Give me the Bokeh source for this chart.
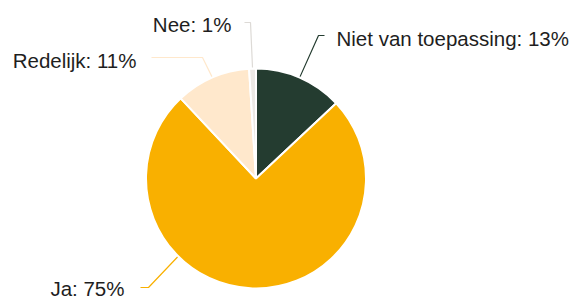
import math
from bokeh.plotting import figure
from bokeh.models import Range1d, ColumnDataSource
from bokeh.core.properties import value
from bokeh.embed import file_html
from bokeh.resources import INLINE

categories = ["Niet van toepassing", "Ja", "Redelijk", "Nee"]
percentages = [13, 75, 11, 1]
colors = ["#243C30", "#F9B000", "#FFE8CC", "#ECE9E5"]

W, H = 571, 300
OX, OY = 0, 0
p = figure(width=W, height=H, output_backend="svg", toolbar_location=None,
           x_range=Range1d(0, W), y_range=Range1d(0, H), min_border=0)
p.axis.visible = False
p.grid.visible = False
p.outline_line_color = None
p.background_fill_color = "white"
p.border_fill_color = "white"

def img(xi, yi):
    return xi - OX, H - (yi - OY)

cx, cy = img(255.5, 178)
R = 110

total = sum(percentages)
starts, ends, mids = [], [], []
acc = 0.0
for v in percentages:
    a0 = math.pi / 2 - 2 * math.pi * acc / total
    acc += v
    a1 = math.pi / 2 - 2 * math.pi * acc / total
    starts.append(a0)
    ends.append(a1)
    mids.append((a0 + a1) / 2)

src = ColumnDataSource(dict(cat=categories, pct=percentages, color=colors,
                            start=starts, end=ends))
p.wedge(x=cx, y=cy, radius=R, radius_units="screen", start_angle="start",
        end_angle="end", direction="clock", fill_color="color",
        line_color="white", line_width=2, source=src)

layout = {
    "Niet van toepassing": dict(angle=None, crook=(318, 35), end=(324, 35), text=(336, 38), align="left"),
    "Ja": dict(angle=math.radians(-135), crook=(148, 287), end=(140, 287), text=(124, 288), align="right"),
    "Redelijk": dict(angle=None, crook=(202, 57), end=(151, 57), text=(136, 59.5), align="right"),
    "Nee": dict(angle=None, crook=(250, 22), end=(244, 22), text=(231, 24), align="right"),
}

for cat, pct, col, mid in zip(categories, percentages, colors, mids):
    L = layout[cat]
    ang = L["angle"] if L["angle"] is not None else mid
    ax, ay = cx + (R + 1) * math.cos(ang), cy + (R + 1) * math.sin(ang)
    kx, ky = img(*L["crook"])
    ex, ey = img(*L["end"])
    lc = col if cat != "Nee" else "#DDDAD6"
    p.line([ax, kx, ex], [ay, ky, ey], line_color=lc, line_width=1.2)
    tx, ty = img(*L["text"])
    p.text(x=[tx], y=[ty], text=[f"{cat}: {pct}%"], text_font=value("Liberation Sans"),
           text_font_size="20.5px", text_color="#1E1E1E", text_align=L["align"],
           text_baseline="middle")

open("out.html", "w").write(file_html(p, INLINE))
